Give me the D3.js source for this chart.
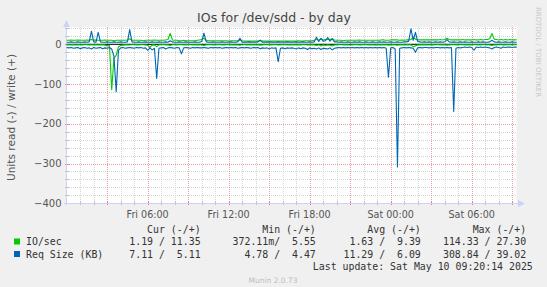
<!DOCTYPE html>
<html><head><meta charset="utf-8">
<script src="https://cdn.jsdelivr.net/npm/d3@7"></script>
<style>
html,body{margin:0;padding:0;background:#F0F0F0;}
svg{display:block;}
text{font-family:"DejaVu Sans",sans-serif;}
.mono{font-family:"DejaVu Sans Mono",monospace;white-space:pre;}
</style></head><body>
<script>
// ---- data (10-minute samples from Fri 00:00 to Sat 09:20) ----
const startTime = "2025-05-09T00:00:14Z";
const endTime = "2025-05-10T09:20:14Z";
const sampleMinutes = 10;

const ioWrite = [
 10,10,11,10,10,11,10,10,10,11,10,12,10,11,10,10,10,11,10,10,
 10,9,10,10,10,10,10,11,14,10,10,10,10,10,9,10,10,10,10,11,
 10,10,10,10,11,12,27.3,11,10,10,9,9,10,9,9,9,9,9,10,11,
 12,15,10,9,9,9,9,9,9,9,9,9,8,9,9,9,9,11,9,8,
 8,8,8,8,8,8,10,8,8,8,8,8,8,8,8,8,8,8,8,8,
 8,8,8,9,8,8,9,9,9,9,10,13,10,14,11,12,13,12,14,11,
 10,10,10,9,10,10,10,10,10,10,11,10,10,10,10,10,10,10,10,10,
 11,11,10,10,11,11,11,11,10,11,10,11,11,12,18,13,11,11,11,11,
 11,11,11,11,11,11,12,11,12,15,12,11,11,11,11,11,12,11,11,11,
 11,12,11,11,12,11,12,12,14,27,13,12,11,12,11,12,11,12,11,11,
 11.35];
const ioRead = [
 1.5,1.2,1.4,1.3,1.6,1.2,1.4,1.5,1.3,1.2,1.6,1.4,1.3,1.5,1.8,1.4,1.2,2,4,3,
 114.33,35,28,6,3,2,1.5,1.4,1.6,1.3,1.2,1.4,1.5,1.3,1.2,1.6,2.5,8,2,1.5,
 6,1.4,1.3,1.2,1.5,1.4,3,1.3,1.2,1.4,1.3,1.2,1.5,1.4,1.3,1.2,1.4,1.3,1.5,1.4,
 1.6,3,1.4,1.3,1.2,1.5,1.4,1.3,1.2,1.4,1.5,1.3,1.2,1.4,1.3,1.6,1.4,2.5,1.3,1.2,
 1.4,1.3,1.5,1.2,1.4,1.3,2,1.4,1.2,1.3,1.5,1.4,1.3,1.2,1.6,1.4,1.3,1.2,1.4,1.5,
 1.3,1.4,1.2,1.5,1.4,1.3,1.2,1.6,1.4,1.3,1.5,3,1.4,4,1.5,3,1.4,2.5,4,1.6,
 1.4,1.3,1.2,1.5,1.4,1.3,1.6,1.4,1.2,1.3,1.5,1.4,1.3,1.2,1.5,1.4,1.3,1.6,1.4,1.3,
 1.5,1.4,1.3,2,1.4,1.3,1.5,2,1.4,1.3,1.5,1.4,1.2,1.4,6,4,1.5,1.3,1.4,1.2,
 1.4,1.3,1.5,1.4,1.2,1.3,1.5,1.4,1.3,2,1.4,1.2,1.3,1.5,1.4,1.3,1.2,1.4,1.3,1.5,
 1.4,1.3,1.2,1.5,1.4,1.3,1.2,1.4,1.5,3,1.3,1.4,1.2,1.3,1.5,1.4,1.2,1.3,1.4,1.2,
 1.19];
const reqWrite = [
 5,5,6,5,5,6,5,5,6,5,6,33,6,5,30,6,5,5,6,5,
 5,6,5,5,6,5,5,6,37,6,5,5,6,5,5,6,5,5,6,5,
 5,6,5,5,6,5,9,6,5,5,6,5,5,6,5,5,5,6,5,5,
 7,28,6,5,5,6,5,5,5,6,5,5,5,6,5,5,6,15,5,5,
 5,6,5,5,5,6,10,5,5,5,6,5,5,5,6,5,5,5,6,5,
 5,5,6,5,5,6,5,5,6,5,6,18,7,15,8,9,17,8,14,6,
 6,5,6,5,5,6,5,5,6,5,6,5,5,6,5,5,6,5,5,6,
 5,6,5,5,6,5,5,6,5,5,6,6,8,39.02,10,30,7,6,5,6,
 5,6,5,5,6,5,6,5,6,12,6,5,6,5,5,6,5,6,5,5,
 6,5,5,6,5,6,5,5,6,10,6,5,6,5,5,6,5,5,6,5,
 5.11];
const reqRead = [
 8,9,8,10,9,8,11,9,8,10,9,12,8,10,9,8,11,9,10,8,
 12,30,119,15,9,8,10,9,8,9,10,8,9,8,10,9,15,9,14,10,
 86,10,9,8,12,9,8,9,10,8,9,24,9,8,9,10,8,9,8,9,
 9,8,9,10,8,9,8,9,8,10,9,8,9,8,9,8,10,9,8,9,
 8,9,10,8,9,8,11,9,10,9,12,9,10,9,44,10,9,11,9,10,
 9,10,12,9,11,9,10,13,9,11,10,12,9,13,10,11,12,9,14,10,
 9,8,9,8,9,8,9,8,9,8,9,8,9,8,9,8,9,8,9,8,
 9,8,10,83,9,8,12,308.84,10,9,8,9,8,9,10,20,9,8,9,8,
 8,9,8,9,8,8,9,8,9,8,9,8,169,10,8,9,8,7,8,7,
 8,15,7,8,7,8,7,8,9,12,8,7,8,10,7,8,7,7,8,7,
 7.11];

const yTicks = [0, -100, -200, -300, -400];
const legendHeaders = ["Cur (-/+)", "Min (-/+)", "Avg (-/+)", "Max (-/+)"];
const seriesNames = ["IO/sec", "Req Size (KB)"];
const seriesColors = ["#00CC00", "#0066B3"];
const ioStats = ["1.19 / 11.35", "372.11m/  5.55", "1.63 /  9.39", "114.33 / 27.30"];
const reqStats = ["7.11 /  5.11", "4.78 /  4.47", "11.29 /  6.09", "308.84 / 39.02"];
const titleText = "IOs for /dev/sdd - by day";
const yLabel = "Units read (-) / write (+)";
const lastUpdate = "Last update: Sat May 10 09:20:14 2025";

// ---- drawing ----
const W = 547, H = 287;
const svg = d3.select("body").append("svg").attr("width", W).attr("height", H);
svg.append("rect").attr("width", W).attr("height", H).attr("fill", "#F0F0F0");

const t0 = new Date(startTime), t1 = new Date(endTime);
const x = d3.scaleUtc().domain([t0, t1]).range([66.7, 516.7]);
const y = d3.scaleLinear().domain([-400, 43]).range([203.3, 27.2]);
const timeAt = i => new Date(t0.getTime() + i * sampleMinutes * 60000);

// canvas
svg.append("rect").attr("x", x.range()[0]).attr("y", y(43))
  .attr("width", x.range()[1] - x.range()[0]).attr("height", y(-400) - y(43)).attr("fill", "#FFFFFF");

const grid = svg.append("g").attr("shape-rendering", "crispEdges");
// horizontal grid
d3.range(-400, 41, 20).forEach(v => {
  const major = v % 100 === 0;
  const yy = Math.round(y(v)) + 0.5;
  grid.append("line").attr("x1", x.range()[0]).attr("x2", x.range()[1])
    .attr("y1", yy).attr("y2", yy)
    .attr("stroke", major ? "#EDA0A0" : "#D4D4D4").attr("stroke-dasharray", "1,1");
  grid.append("line").attr("x1", x.range()[0] - 2).attr("x2", x.range()[0] + 2)
    .attr("y1", yy).attr("y2", yy).attr("stroke", major ? "#E08080" : "#BBBBBB");
});
// vertical grid
const hours = d3.utcHour.range(d3.utcHour.ceil(t0), t1);
hours.forEach(h => {
  const major = h.getUTCHours() % 3 === 0;
  const xx = Math.round(x(h)) + 0.5;
  grid.append("line").attr("x1", xx).attr("x2", xx).attr("y1", y(43)).attr("y2", y(-400))
    .attr("stroke", major ? "#EDA0A0" : "#D4D4D4").attr("stroke-dasharray", "1,1");
  grid.append("line").attr("x1", xx).attr("x2", xx).attr("y1", y(-400) - 2).attr("y2", y(-400) + 2)
    .attr("stroke", major ? "#E08080" : "#BBBBBB");
});

// axes lines with arrows
const axisCol = "#CDD3F5";
svg.append("line").attr("x1", 66.5).attr("x2", 66.5).attr("y1", y(-400) + 2).attr("y2", 24)
  .attr("stroke", axisCol).attr("shape-rendering", "crispEdges");
svg.append("line").attr("x1", 64).attr("x2", 520).attr("y1", 203.5).attr("y2", 203.5)
  .attr("stroke", axisCol).attr("shape-rendering", "crispEdges");
svg.append("path").attr("d", "M63,27 L66.5,20 L70,27 Z").attr("fill", axisCol);
svg.append("path").attr("d", "M518,200 L525,203.5 L518,207 Z").attr("fill", axisCol);

// y tick labels
svg.append("g").selectAll("text").data(yTicks).join("text")
  .attr("x", 61.5).attr("y", d => y(d) + 3.6).attr("text-anchor", "end")
  .attr("font-size", "10px").attr("fill", "#555").text(d => d3.format("d")(d));

// x tick labels
const labelTimes = hours.filter(h => h.getUTCHours() % 6 === 0);
const fmt = d3.utcFormat("%a %H:%M");
svg.append("g").selectAll("text").data(labelTimes).join("text")
  .attr("x", d => x(d)).attr("y", 218).attr("text-anchor", "middle")
  .attr("font-size", "9.6px").attr("fill", "#555").text(d => fmt(d));

// zero rule
svg.append("line").attr("x1", x.range()[0]).attr("x2", x.range()[1])
  .attr("y1", y(0)).attr("y2", y(0)).attr("stroke", "#000").attr("stroke-width", 1);

// series lines
const lineGen = sign => d3.line().x((d, i) => x(timeAt(i))).y(d => y(sign * d));
[[ioRead, -1, 0], [ioWrite, 1, 0], [reqRead, -1, 1], [reqWrite, 1, 1]].forEach(([arr, s, c]) => {
  svg.append("path").datum(arr).attr("d", lineGen(s)).attr("fill", "none")
    .attr("stroke", seriesColors[c]).attr("stroke-width", 1.1).attr("stroke-linejoin", "round");
});

// title
svg.append("text").attr("x", 274).attr("y", 22).attr("text-anchor", "middle")
  .attr("font-size", "12.5px").attr("fill", "#444").text(titleText);

// y label
svg.append("text").attr("transform", "translate(14.5,117.5) rotate(-90)")
  .attr("text-anchor", "middle").attr("font-size", "10.6px").attr("fill", "#555").text(yLabel);

// watermark
svg.append("text").attr("transform", "translate(535.5,52) rotate(90)")
  .attr("text-anchor", "middle").attr("font-size", "7px").attr("fill", "#C8C8C8")
  .text("RRDTOOL / TOBI OETIKER");

// legend
const colRight = [200.6, 315.8, 420.8, 526.2];
const leg = svg.append("g").attr("font-size", "9.9px").attr("fill", "#333");
leg.selectAll("text.h").data(legendHeaders).join("text").attr("class", "mono h")
  .attr("x", (d, i) => colRight[i]).attr("y", 232.5).attr("text-anchor", "end").text(d => d);
[ioStats, reqStats].forEach((stats, r) => {
  const yy = 245 + r * 12.5;
  leg.append("rect").attr("x", 14).attr("y", yy - 6.5).attr("width", 6).attr("height", 6)
    .attr("fill", seriesColors[r]);
  leg.append("text").attr("class", "mono").attr("x", 26).attr("y", yy).text(seriesNames[r]);
  stats.forEach((s, i) => {
    leg.append("text").attr("class", "mono").attr("x", colRight[i]).attr("y", yy)
      .attr("text-anchor", "end").text(s);
  });
});
leg.append("text").attr("class", "mono").attr("x", 532.8).attr("y", 270)
  .attr("text-anchor", "end").text(lastUpdate);

svg.append("text").attr("x", 273).attr("y", 282.5).attr("text-anchor", "middle")
  .attr("font-size", "7.5px").attr("fill", "#BDBDBD").text("Munin 2.0.73");
</script>
</body></html>
